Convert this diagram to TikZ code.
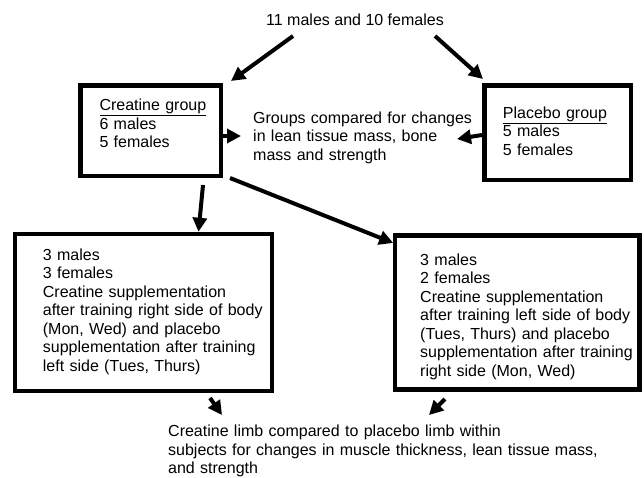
\documentclass[tikz,border=0pt]{standalone}
\usepackage{fontspec}
\setmainfont{Liberation Sans}
\usetikzlibrary{arrows.meta}
\setlength{\parindent}{0pt}
\begin{document}
\begin{tikzpicture}[x=1pt,y=-1pt,
  box/.style={draw,line width=4.5pt,inner sep=0pt},
  txt/.style={anchor=base west,inner sep=0pt,align=left,font=\fontsize{16}{18.5}\selectfont},
  arr/.style={line width=4pt,-{Triangle[length=14pt,width=14pt]}}]
\useasboundingbox (0,0) rectangle (644,477);
% boxes
\node[box,minimum width=140.5pt,minimum height=90.5pt] (cg) at (150.5,130.5) {};
\node[box,minimum width=146.5pt,minimum height=94.5pt] (pg) at (557.5,132.5) {};
\node[box,minimum width=257pt,minimum height=157pt] (lb) at (143.5,312.5) {};
\node[box,minimum width=244.5pt,minimum height=154pt] (rb) at (517.2,312.5) {};
% texts
\node[txt] (top) at (266,25) {11 males and 10 females};
\node[txt,text width=120pt] (cgt) at (99.3,110.7) {\underline{Creatine group}\\6 males\\5 females};
\node[txt,text width=220pt] (grp) at (253,123) {Groups compared for changes\\in lean tissue mass, bone\\mass and strength};
\node[txt,text width=125pt] (pgt) at (502.7,118.3) {\underline{Placebo group}\\5 males\\5 females};
\node[txt,text width=225pt] (lbt) at (42.7,260) {3 males\\3 females\\Creatine supplementation\\after training right side of body\\(Mon, Wed) and placebo\\supplementation after training\\left side (Tues, Thurs)};
\node[txt,text width=218pt] (rbt) at (420,265) {3 males\\2 females\\Creatine supplementation\\after training left side of body\\(Tues, Thurs) and placebo\\supplementation after training\\right side (Mon, Wed)};
\node[txt,text width=470pt] (bot) at (168,436.5) {Creatine limb compared to placebo limb within\\subjects for changes in muscle thickness, lean tissue mass,\\and strength};
% arrows
\draw[arr] ([shift={(27,11)}]top.base west) -- ([shift={(8,-2)}]cg.north east);
\draw[arr] ([shift={(169,11)}]top.base west) -- ([shift={(1,-4)}]pg.north west);
\draw[arr] ([shift={(0,5.5)}]cg.east) -- ([shift={(-12,13)}]grp.base west);
\draw[arr] ([shift={(0,2.5)}]pg.west) -- ([shift={(204,16)}]grp.base west);
\draw[arr] ([shift={(52.5,7)}]cg.south) -- ([shift={(55,0)}]lb.north);
\draw[arr] ([shift={(7,0)}]cg.south east) -- ([shift={(0.5,9.7)}]rb.north west);
\draw[arr] ([shift={(66.5,4.7)}]lb.south) -- ([shift={(54,-21.5)}]bot.base west);
\draw[arr] ([shift={(-72.2,7.3)}]rb.south) -- ([shift={(261,-21.5)}]bot.base west);
\end{tikzpicture}
\end{document}
